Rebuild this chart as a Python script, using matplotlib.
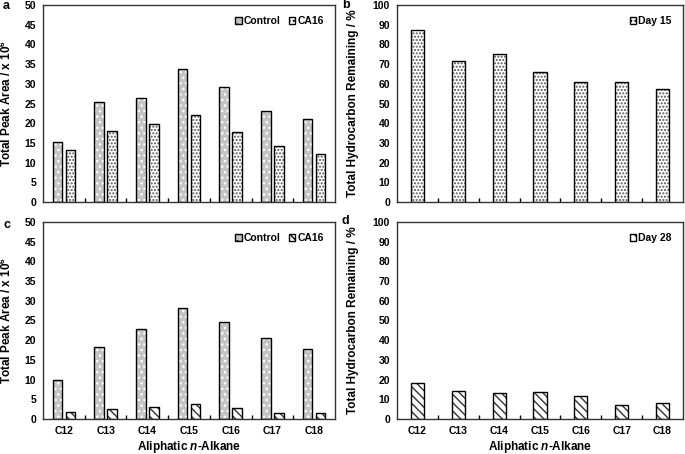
import numpy as np
import matplotlib
matplotlib.use("Agg")
import matplotlib.pyplot as plt
from matplotlib.patches import Patch

plt.rcParams['font.family'] = ['Liberation Sans', 'DejaVu Sans']
plt.rcParams['font.weight'] = 'bold'
plt.rcParams['mathtext.fontset'] = 'custom'
plt.rcParams['mathtext.rm'] = 'Liberation Sans:bold'
plt.rcParams['mathtext.it'] = 'Liberation Sans:bold:italic'
plt.rcParams['mathtext.bf'] = 'Liberation Sans:bold'

# data
alkanes = ["C12", "C13", "C14", "C15", "C16", "C17", "C18"]
a_control = [15.2, 25.4, 26.5, 33.8, 29.1, 23.0, 21.1]
a_ca16 = [13.2, 18.0, 19.8, 22.2, 17.8, 14.1, 12.1]
b_day15 = [87.5, 71.5, 75.2, 65.8, 61.0, 61.0, 57.5]
c_control = [9.8, 18.3, 22.9, 28.2, 24.5, 20.5, 17.8]
c_ca16 = [1.7, 2.5, 3.0, 3.9, 2.7, 1.5, 1.5]
d_day28 = [18.2, 14.3, 13.0, 13.8, 11.6, 6.9, 8.2]

GRAY = "#c4c4c4"
x = np.arange(len(alkanes))


def hbar(ax, xs, vals, width, face, hatch, hcolor):
    # hatch layer first, then a black outline on top
    ax.bar(xs, vals, width, color=face, hatch=hatch, edgecolor=hcolor, linewidth=0)
    ax.bar(xs, vals, width, fill=False, edgecolor="black", linewidth=1.0)


def style(ax, ymax, ystep, ylabel, show_x, label_x):
    ax.set_xlim(-0.5, len(alkanes) - 0.5)
    ax.set_ylim(0, ymax)
    ax.set_yticks(np.arange(0, ymax + 1, ystep))
    ax.set_xticks(x)
    ax.set_xticks(np.arange(0.5, len(alkanes) - 1, 1), minor=True)
    ax.tick_params(axis="x", which="major", length=0, pad=5, labelsize=7.5)
    ax.tick_params(axis="x", which="minor", direction="in", length=3, width=1)
    ax.tick_params(axis="y", length=0, pad=5, labelsize=7.5)
    for lab in ax.get_xticklabels() + ax.get_yticklabels():
        lab.set_fontweight("bold")
    if show_x:
        ax.set_xticklabels(alkanes)
        ax.set_xlabel("Aliphatic $n$-Alkane", fontsize=8.5, fontweight="bold", labelpad=2)
    else:
        ax.set_xticklabels([])
    ax.set_ylabel(ylabel, fontsize=8.5, fontweight="bold")
    ax.yaxis.set_label_coords(label_x, 0.5)
    for s in ax.spines.values():
        s.set_linewidth(1.0)
        s.set_color("#333333")


def add_legend(ax, handles, ncol):
    ax.legend(handles=handles, loc="upper right", ncol=ncol, frameon=False,
              handlelength=0.6, handleheight=0.6, handletextpad=0.2,
              columnspacing=0.8, borderaxespad=0.7,
              prop={"weight": "bold", "size": 7.5})


fig = plt.figure(figsize=(6.85, 4.54), dpi=100)
W, H = 685.0, 454.0
ax_a = fig.add_axes([43 / W, 1 - 202 / H, 292 / W, 197 / H])
ax_b = fig.add_axes([397 / W, 1 - 202 / H, 286 / W, 197 / H])
ax_c = fig.add_axes([43 / W, 1 - 419 / H, 292 / W, 197 / H])
ax_d = fig.add_axes([397 / W, 1 - 419 / H, 286 / W, 197 / H])

pair_w = 0.23
off = 0.155
la = (14 - 43) / 292.0
lb = (359 - 397) / 286.0

# panel a
hbar(ax_a, x - off, a_control, pair_w, GRAY, "...", "white")
hbar(ax_a, x + off, a_ca16, pair_w, "white", ".....", "#555555")
style(ax_a, 50, 5, "Total Peak Area / x 10$^{6}$", False, la)
add_legend(ax_a, [Patch(facecolor=GRAY, edgecolor="black", hatch="..", label="Control"),
                  Patch(facecolor="white", edgecolor="black", hatch="....", label="CA16")], 2)

# panel b
hbar(ax_b, x, b_day15, 0.32, "white", ".....", "#555555")
style(ax_b, 100, 10, "Total Hydrocarbon Remaining / %", False, lb)
add_legend(ax_b, [Patch(facecolor="white", edgecolor="black", hatch="....", label="Day 15")], 1)

# panel c
hbar(ax_c, x - off, c_control, pair_w, GRAY, "...", "white")
hbar(ax_c, x + off, c_ca16, pair_w, "white", "\\\\\\\\", "#333333")
style(ax_c, 50, 5, "Total Peak Area / x 10$^{6}$", True, la)
add_legend(ax_c, [Patch(facecolor=GRAY, edgecolor="black", hatch="..", label="Control"),
                  Patch(facecolor="white", edgecolor="black", hatch="\\\\\\", label="CA16")], 2)

# panel d
hbar(ax_d, x, d_day28, 0.32, "white", "\\\\\\\\", "#333333")
style(ax_d, 100, 10, "Total Hydrocarbon Remaining / %", True, lb)
add_legend(ax_d, [Patch(facecolor="white", edgecolor="black", hatch="\\\\\\", label="Day 28")], 1)

# panel letters
for lbl, px, py in [("a", 3, 6), ("b", 342, 5), ("c", 3, 225), ("d", 342, 221)]:
    fig.text(px / W, 1 - py / H, lbl, fontsize=9, fontweight="bold", va="center")

fig.savefig("out.png", dpi=100)
